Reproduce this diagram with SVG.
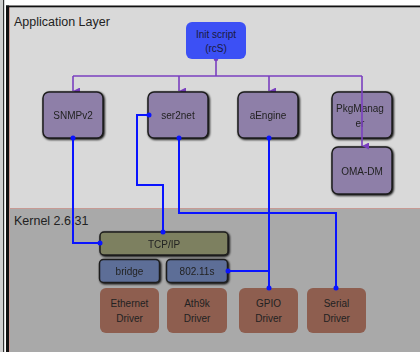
<svg xmlns="http://www.w3.org/2000/svg" width="420" height="352" viewBox="0 0 420 352">
<defs>
<filter id="sh" x="-20%" y="-20%" width="140%" height="140%">
<feGaussianBlur in="SourceAlpha" stdDeviation="1.2" result="b"/>
<feOffset dx="0.5" dy="0.5" result="o"/>
<feMerge><feMergeNode in="o"/><feMergeNode in="SourceGraphic"/></feMerge>
</filter>
<marker id="ah" viewBox="0 0 8 8" refX="4" refY="8" markerWidth="7" markerHeight="7" markerUnits="userSpaceOnUse" orient="auto-start-reverse">
<path d="M0,0 L8,0 L4,8 Z" fill="#7a3fbf"/>
</marker>
</defs>
<style>
text{font-family:"Liberation Sans","DejaVu Sans",sans-serif;fill:#222;text-anchor:middle}
.lbl{font-size:12.5px;text-anchor:start}
.t{font-size:10px}
.app rect{fill:#8e7fa8;stroke:#1e1e1e;stroke-width:1.5}
.kb rect{stroke:#1e1e1e;stroke-width:1.5}
.drv rect{fill:#8e5e4f}
.pl{fill:none;stroke:#7a3fbf;stroke-width:1.6}
.bl{fill:none;stroke:#0a14ff;stroke-width:2}
.dot{fill:#0a14ff}
</style>
<rect x="0" y="0" width="420" height="352" fill="#ffffff"/>
<rect x="0" y="0" width="3" height="352" fill="#d0d0d0"/>
<rect x="3" y="0" width="1.2" height="352" fill="#333"/>
<rect x="9" y="7" width="411" height="202" fill="#d9d9d9"/>
<rect x="9" y="209" width="411" height="143" fill="#a9a9a9"/>
<line x1="9" y1="208.5" x2="420" y2="208.5" stroke="#c79a94" stroke-width="1"/>
<line x1="9.5" y1="7" x2="9.5" y2="352" stroke="#c79a94" stroke-width="1"/>
<rect x="6" y="5.5" width="414" height="1.8" fill="#111"/>
<rect x="6" y="5.5" width="3" height="347" fill="#111"/>
<text class="lbl" x="14" y="26">Application Layer</text>
<text class="lbl" x="14" y="225">Kernel 2.6.31</text>

<g id="connectors">
<path class="pl" d="M216,59 V76"/>
<path class="pl" d="M73,76 H362"/>
<path class="pl" d="M73,76 V91" marker-end="url(#ah)"/>
<path class="pl" d="M179,76 V91" marker-end="url(#ah)"/>
<path class="pl" d="M269,76 V91" marker-end="url(#ah)"/>
<circle cx="216" cy="59" r="2.3" fill="#7a3fbf"/>
</g>

<g id="init"><rect x="186" y="22" width="60" height="37" rx="6" fill="#3c50f5"/>
<text class="t" x="216" y="38" style="fill:#1a1a40">Init script</text><text class="t" x="216" y="52" style="fill:#1a1a40">(rcS)</text></g>

<g id="snmp" class="app" filter="url(#sh)"><rect x="43" y="92" width="60" height="46" rx="6"/><text class="t" x="73" y="119">SNMPv2</text></g>
<g id="ser2net" class="app" filter="url(#sh)"><rect x="148" y="92" width="60" height="46" rx="6"/><text class="t" x="178" y="119">ser2net</text></g>
<g id="aengine" class="app" filter="url(#sh)"><rect x="238" y="92" width="60" height="46" rx="6"/><text class="t" x="268" y="119">aEngine</text></g>
<g id="pkg" class="app" filter="url(#sh)"><rect x="332" y="92" width="60" height="46" rx="6"/><text class="t" x="360" y="112">PkgManag</text><text class="t" x="360" y="127">er</text></g>
<g id="oma" class="app" filter="url(#sh)"><rect x="332" y="147" width="60" height="47" rx="6"/><text class="t" x="362" y="175">OMA-DM</text></g>

<g id="tcpip" class="kb" filter="url(#sh)"><rect x="100" y="232" width="128" height="23" rx="4" fill="#7d8060"/><text class="t" x="164" y="247.5">TCP/IP</text></g>
<g id="bridge" class="kb" filter="url(#sh)"><rect x="99.5" y="259.5" width="60" height="23" rx="4" fill="#5d6e97"/><text class="t" x="129.5" y="275">bridge</text></g>
<g id="wifi" class="kb" filter="url(#sh)"><rect x="166.5" y="259.5" width="61" height="23" rx="4" fill="#5d6e97"/><text class="t" x="197" y="275">802.11s</text></g>

<g id="eth" class="drv"><rect x="100" y="288" width="59" height="45" rx="6"/><text class="t" x="129.5" y="307">Ethernet</text><text class="t" x="129.5" y="322">Driver</text></g>
<g id="ath" class="drv"><rect x="167" y="288" width="60" height="45" rx="6"/><text class="t" x="197" y="307">Ath9k</text><text class="t" x="197" y="322">Driver</text></g>
<g id="gpio" class="drv"><rect x="239" y="288" width="59" height="45" rx="6"/><text class="t" x="268.5" y="307">GPIO</text><text class="t" x="268.5" y="322">Driver</text></g>
<g id="serial" class="drv"><rect x="307" y="288" width="59" height="45" rx="6"/><text class="t" x="336.5" y="307">Serial</text><text class="t" x="336.5" y="322">Driver</text></g>

<g id="connectors-blue">
<path class="pl" d="M362,76 V146" marker-end="url(#ah)"/>
<path class="bl" d="M73,138 V243 H100"/>
<path class="bl" d="M149,115 H137 V185 H163 V232"/>
<path class="bl" d="M179,138 V213 H336 V288"/>
<path class="bl" d="M269,138 V288"/>
<path class="bl" d="M228,271 H269"/>
<circle class="dot" cx="73" cy="138" r="2.5"/>
<circle class="dot" cx="100" cy="243" r="2.5"/>
<circle class="dot" cx="149" cy="115" r="2.5"/>
<circle class="dot" cx="163" cy="232" r="2.5"/>
<circle class="dot" cx="179" cy="138" r="2.5"/>
<circle class="dot" cx="336" cy="288" r="2.5"/>
<circle class="dot" cx="269" cy="138" r="2.5"/>
<circle class="dot" cx="269" cy="288" r="2.5"/>
<circle class="dot" cx="228" cy="271" r="2.5"/>
</g>
</svg>
